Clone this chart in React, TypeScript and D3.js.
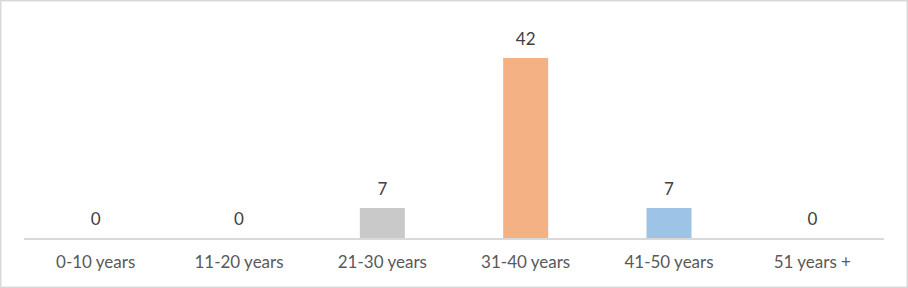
import React from "react";
import * as d3 from "d3";

const categories = ["0-10 years", "11-20 years", "21-30 years", "31-40 years", "41-50 years", "51 years +"];
const values = [0, 0, 7, 42, 7, 0];
const barColors = ["#a5a5a5", "#5b9bd5", "#c9c9c9", "#f4b183", "#9dc3e6", "#ffd966"];

const W = 908;
const H = 288;

export default function App() {
  const x = d3.scaleBand<string>().domain(categories).range([24, 884]).paddingInner(0.686).paddingOuter(0.343);
  const y = d3.scaleLinear().domain([0, 42]).range([238, 58]);
  const font = "Lato, Carlito, Calibri, sans-serif";
  return (
    <svg width={W} height={H} style={{ position: "absolute", left: 0, top: 0, display: "block" }}>
      <rect x={0.75} y={0.75} width={W - 1.5} height={H - 1.5} fill="#fff" stroke="#d9d9d9" strokeWidth={1.5} />
      {categories.map((c, i) => (
        <rect key={c} x={x(c)} y={y(values[i])} width={x.bandwidth()} height={y(0) - y(values[i])} fill={barColors[i]} />
      ))}
      <line x1={24} x2={884} y1={239} y2={239} stroke="#d9d9d9" strokeWidth={2} />
      {categories.map((c, i) => (
        <text key={"v" + c} x={(x(c) ?? 0) + x.bandwidth() / 2} y={y(values[i]) - 13.5} textAnchor="middle" fontFamily={font} fontSize={17} fill="#404040">
          {values[i]}
        </text>
      ))}
      {categories.map((c) => (
        <text key={"c" + c} x={(x(c) ?? 0) + x.bandwidth() / 2} y={268} textAnchor="middle" fontFamily={font} fontSize={17} fill="#595959">
          {c}
        </text>
      ))}
    </svg>
  );
}
